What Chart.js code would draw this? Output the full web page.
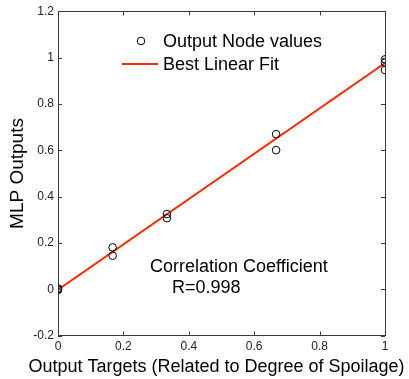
<!DOCTYPE html>
<html>
<head>
<meta charset="utf-8">
<script src="https://cdn.jsdelivr.net/npm/chart.js@4.4.0/dist/chart.umd.min.js"></script>
<style>
  html, body { margin: 0; padding: 0; background: #fff; }
  #wrap { width: 409px; height: 379px; }
</style>
</head>
<body>
<div id="wrap"><canvas id="myChart" width="409" height="379"></canvas></div>
<script>
// targets (x) and network outputs (y)
const targets = [0, 0, 0, 0.167, 0.167, 0.333, 0.333, 0.667, 0.667, 1, 1, 1];
const outputs = [0.004, 0, -0.003, 0.181, 0.145, 0.325, 0.307, 0.67, 0.601, 0.993, 0.979, 0.947];
// best linear fit end points
const fitX = [0, 1];
const fitY = [-0.002, 0.977];
const xTicks = [0, 0.2, 0.4, 0.6, 0.8, 1];
const yTicks = [-0.2, 0, 0.2, 0.4, 0.6, 0.8, 1, 1.2];
const legendLabels = ['Output Node values', 'Best Linear Fit'];
const noteLines = ['Correlation Coefficient', 'R=0.998'];
const xTitle = 'Output Targets (Related to Degree of Spoilage)';

const FONT = '"Liberation Sans", Arial, sans-serif';
const fitColor = '#ff2a00';

// inward ticks on all four sides plus the box
const boxTicks = {
  id: 'boxTicks',
  afterDraw(chart) {
    const { ctx, chartArea: a, scales } = chart;
    ctx.save();
    ctx.strokeStyle = '#3a3a3a';
    ctx.lineWidth = 1;
    ctx.beginPath();
    xTicks.forEach(v => {
      const px = Math.round(scales.x.getPixelForValue(v)) + 0.5;
      ctx.moveTo(px, a.bottom); ctx.lineTo(px, a.bottom - 4);
      ctx.moveTo(px, a.top); ctx.lineTo(px, a.top + 4);
    });
    yTicks.forEach(v => {
      const py = Math.round(scales.y.getPixelForValue(v)) + 0.5;
      ctx.moveTo(a.left, py); ctx.lineTo(a.left + 4, py);
      ctx.moveTo(a.right, py); ctx.lineTo(a.right - 4, py);
    });
    ctx.stroke();
    ctx.strokeRect(Math.round(a.left) + 0.5, Math.round(a.top) + 0.5,
      Math.round(a.right - a.left), Math.round(a.bottom - a.top));
    ctx.restore();
  }
};

// legend, x title (wider than the plot, so not squeezed) and the correlation note
const notes = {
  id: 'notes',
  afterDatasetsDraw(chart) {
    const { ctx } = chart;
    ctx.save();
    ctx.font = '18px ' + FONT;
    ctx.fillStyle = '#000';
    ctx.textBaseline = 'middle';
    ctx.textAlign = 'left';

    ctx.beginPath();
    ctx.arc(141, 41, 3.8, 0, Math.PI * 2);
    ctx.strokeStyle = '#000';
    ctx.lineWidth = 1;
    ctx.stroke();
    ctx.fillText(legendLabels[0], 163, 42);

    ctx.beginPath();
    ctx.moveTo(122, 64); ctx.lineTo(158, 64);
    ctx.strokeStyle = fitColor;
    ctx.lineWidth = 2;
    ctx.stroke();
    ctx.fillText(legendLabels[1], 163, 65);

    ctx.fillText(noteLines[0], 150, 267);
    ctx.fillText(noteLines[1], 172, 288);

    ctx.textAlign = 'center';
    ctx.fillText(xTitle, 216.5, 367);
    ctx.restore();
  }
};

const fmt = v => {
  const r = Math.round(v * 10) / 10;
  return Number.isInteger(r) ? String(r) : r.toFixed(1);
};

new Chart(document.getElementById('myChart'), {
  type: 'scatter',
  data: {
    datasets: [
      {
        label: legendLabels[0],
        data: targets.map((x, i) => ({ x, y: outputs[i] })),
        pointRadius: 3.8,
        pointBorderColor: '#000',
        pointBackgroundColor: 'rgba(0,0,0,0)',
        pointBorderWidth: 1,
        showLine: false,
        order: 1
      },
      {
        label: legendLabels[1],
        data: fitX.map((x, i) => ({ x, y: fitY[i] })),
        showLine: true,
        borderColor: fitColor,
        borderWidth: 2,
        pointRadius: 0,
        order: 2
      }
    ]
  },
  options: {
    responsive: false,
    animation: false,
    layout: { padding: { top: 11.4, right: 24, left: 0, bottom: 0 } },
    plugins: { legend: { display: false }, tooltip: { enabled: false } },
    scales: {
      x: {
        type: 'linear', min: 0, max: 1,
        afterFit: s => { s.height = 379 - 335.6; },
        afterBuildTicks: s => { s.ticks = xTicks.map(v => ({ value: v })); },
        grid: { display: false, drawTicks: false },
        border: { display: false },
        ticks: { font: { family: FONT, size: 12 }, color: '#222', padding: 4, callback: fmt, maxRotation: 0 },
        title: { display: false }
      },
      y: {
        type: 'linear', min: -0.2, max: 1.2,
        afterFit: s => { s.width = 58; },
        afterBuildTicks: s => { s.ticks = yTicks.map(v => ({ value: v })); },
        grid: { display: false, drawTicks: false },
        border: { display: false },
        ticks: { font: { family: FONT, size: 12 }, color: '#222', padding: 4, callback: fmt },
        title: { display: true, text: 'MLP Outputs', font: { family: FONT, size: 19 }, color: '#000', padding: { top: 6, bottom: 0 } }
      }
    }
  },
  plugins: [boxTicks, notes]
});
</script>
</body>
</html>
